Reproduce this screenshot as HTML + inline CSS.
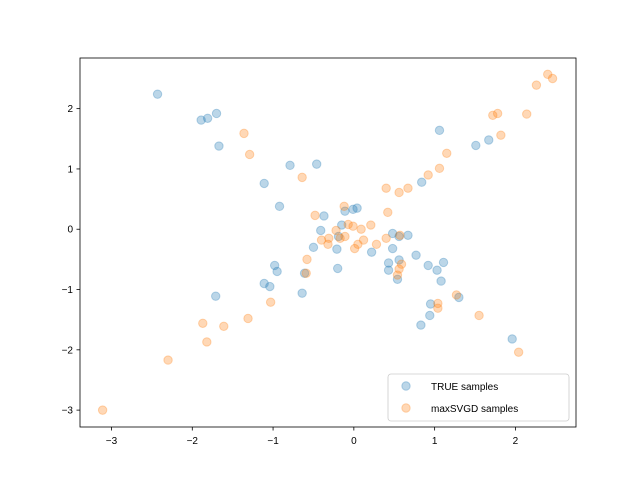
<!DOCTYPE html>
<html><head><meta charset="utf-8"><style>
body{margin:0;background:#fff;}
svg text{font-family:"Liberation Sans","DejaVu Sans",sans-serif;}
</style></head><body>
<svg id="chart" width="640" height="480" xmlns="http://www.w3.org/2000/svg">
<rect width="640" height="480" fill="#fff"/>
<g id="plot"></g>
<g id="axes"></g>
</svg>
<script>
const blueX=[-2.43,-1.89,-1.81,-1.70,-1.67,-0.79,-0.46,-1.11,-0.92,-0.37,-0.11,-0.01,0.04,-0.15,-0.19,-0.41,-0.50,-0.21,-0.20,0.22,0.48,0.43,0.48,0.56,0.67,0.77,1.06,0.84,1.51,1.67,0.43,0.54,0.92,1.03,1.11,1.08,-1.71,-0.98,-0.95,-1.11,-1.04,-0.61,-0.64,0.95,0.94,0.83,1.30,1.96,0.56];
const blueY=[2.24,1.81,1.84,1.92,1.38,1.06,1.08,0.76,0.38,0.22,0.30,0.33,0.35,0.07,-0.12,-0.02,-0.30,-0.33,-0.65,-0.38,-0.07,-0.56,-0.32,-0.51,-0.10,-0.43,1.64,0.78,1.39,1.48,-0.68,-0.83,-0.60,-0.68,-0.55,-0.86,-1.11,-0.60,-0.70,-0.90,-0.95,-0.73,-1.06,-1.24,-1.43,-1.59,-1.13,-1.82,-0.12];
const orangeX=[2.40,2.46,2.26,2.14,1.72,1.78,1.82,1.15,1.06,0.92,0.67,0.56,0.40,-0.64,-1.36,-1.29,-0.12,-0.48,0.42,-0.40,-0.31,-0.32,-0.17,-0.22,-0.07,-0.01,0.09,0.21,-0.11,0.01,0.05,0.12,0.28,0.40,0.57,-0.58,-0.59,0.56,0.54,0.59,1.27,1.04,1.04,1.55,2.04,-1.87,-1.82,-1.61,-1.31,-1.03,-2.30,-3.11];
const orangeY=[2.57,2.50,2.39,1.91,1.89,1.92,1.56,1.26,1.01,0.90,0.68,0.61,0.68,0.86,1.59,1.24,0.38,0.23,0.28,-0.18,-0.15,-0.25,-0.15,-0.02,0.08,0.05,0.00,0.07,-0.12,-0.32,-0.25,-0.18,-0.25,-0.15,-0.10,-0.50,-0.73,-0.66,-0.76,-0.58,-1.09,-1.23,-1.31,-1.43,-2.04,-1.56,-1.87,-1.61,-1.48,-1.21,-2.17,-3.00];
const xTicks=[-3,-2,-1,0,1,2];
const yTicks=[-3,-2,-1,0,1,2];
const L=80,R=576,T=58,B=427;
const xMin=-3.39,xMax=2.75,yMin=-3.28,yMax=2.84;
const sx=v=>L+(v-xMin)/(xMax-xMin)*(R-L);
const sy=v=>B-(v-yMin)/(yMax-yMin)*(B-T);
const NS="http://www.w3.org/2000/svg";
const plot=document.getElementById('plot'),axes=document.getElementById('axes');
function mk(tag,at,parent){const e=document.createElementNS(NS,tag);for(const k in at)e.setAttribute(k,at[k]);parent.appendChild(e);return e;}
function series(xs,ys,color,name){
 for(let i=0;i<xs.length;i++){
  const c=mk('circle',{cx:sx(xs[i]),cy:sy(ys[i]),r:4.2,fill:color,'fill-opacity':0.3,stroke:color,'stroke-opacity':0.3},plot);
  
  
 }
}
series(blueX,blueY,'#1f77b4','true-sample-point');
series(orangeX,orangeY,'#ff7f0e','maxsvgd-sample-point');
const frame=mk('rect',{x:L,y:T,width:R-L,height:B-T,fill:'none',stroke:'#000','stroke-width':0.8},axes);


xTicks.forEach(t=>{
 const x=sx(t);
 mk('line',{x1:x,x2:x,y1:B,y2:B+3.5,stroke:'#000','stroke-width':0.8},axes);
 const tx=mk('text',{x:x,y:B+17,'text-anchor':'middle','font-size':10},axes);
 tx.textContent=(t<0?'\u2212':'')+Math.abs(t);
 
 
});
yTicks.forEach(t=>{
 const y=sy(t);
 mk('line',{x1:L,x2:L-3.5,y1:y,y2:y,stroke:'#000','stroke-width':0.8},axes);
 const tx=mk('text',{x:L-7,y:y+3.5,'text-anchor':'end','font-size':10},axes);
 tx.textContent=(t<0?'\u2212':'')+Math.abs(t);
 
 
});
const lg=mk('g',{},axes);


mk('rect',{x:388,y:374,width:181,height:47,rx:3,fill:'#fff','fill-opacity':0.8,stroke:'#ccc','stroke-width':0.8},lg);
[['#1f77b4','TRUE samples',386],['#ff7f0e','maxSVGD samples',408]].forEach(([c,l,y])=>{
 mk('circle',{cx:406,cy:y,r:4.2,fill:c,'fill-opacity':0.3,stroke:c,'stroke-opacity':0.3},lg);
 const t=mk('text',{x:431,y:y+4,'font-size':10},lg);
 t.textContent=l;
 
 
});
</script>
</body></html>
